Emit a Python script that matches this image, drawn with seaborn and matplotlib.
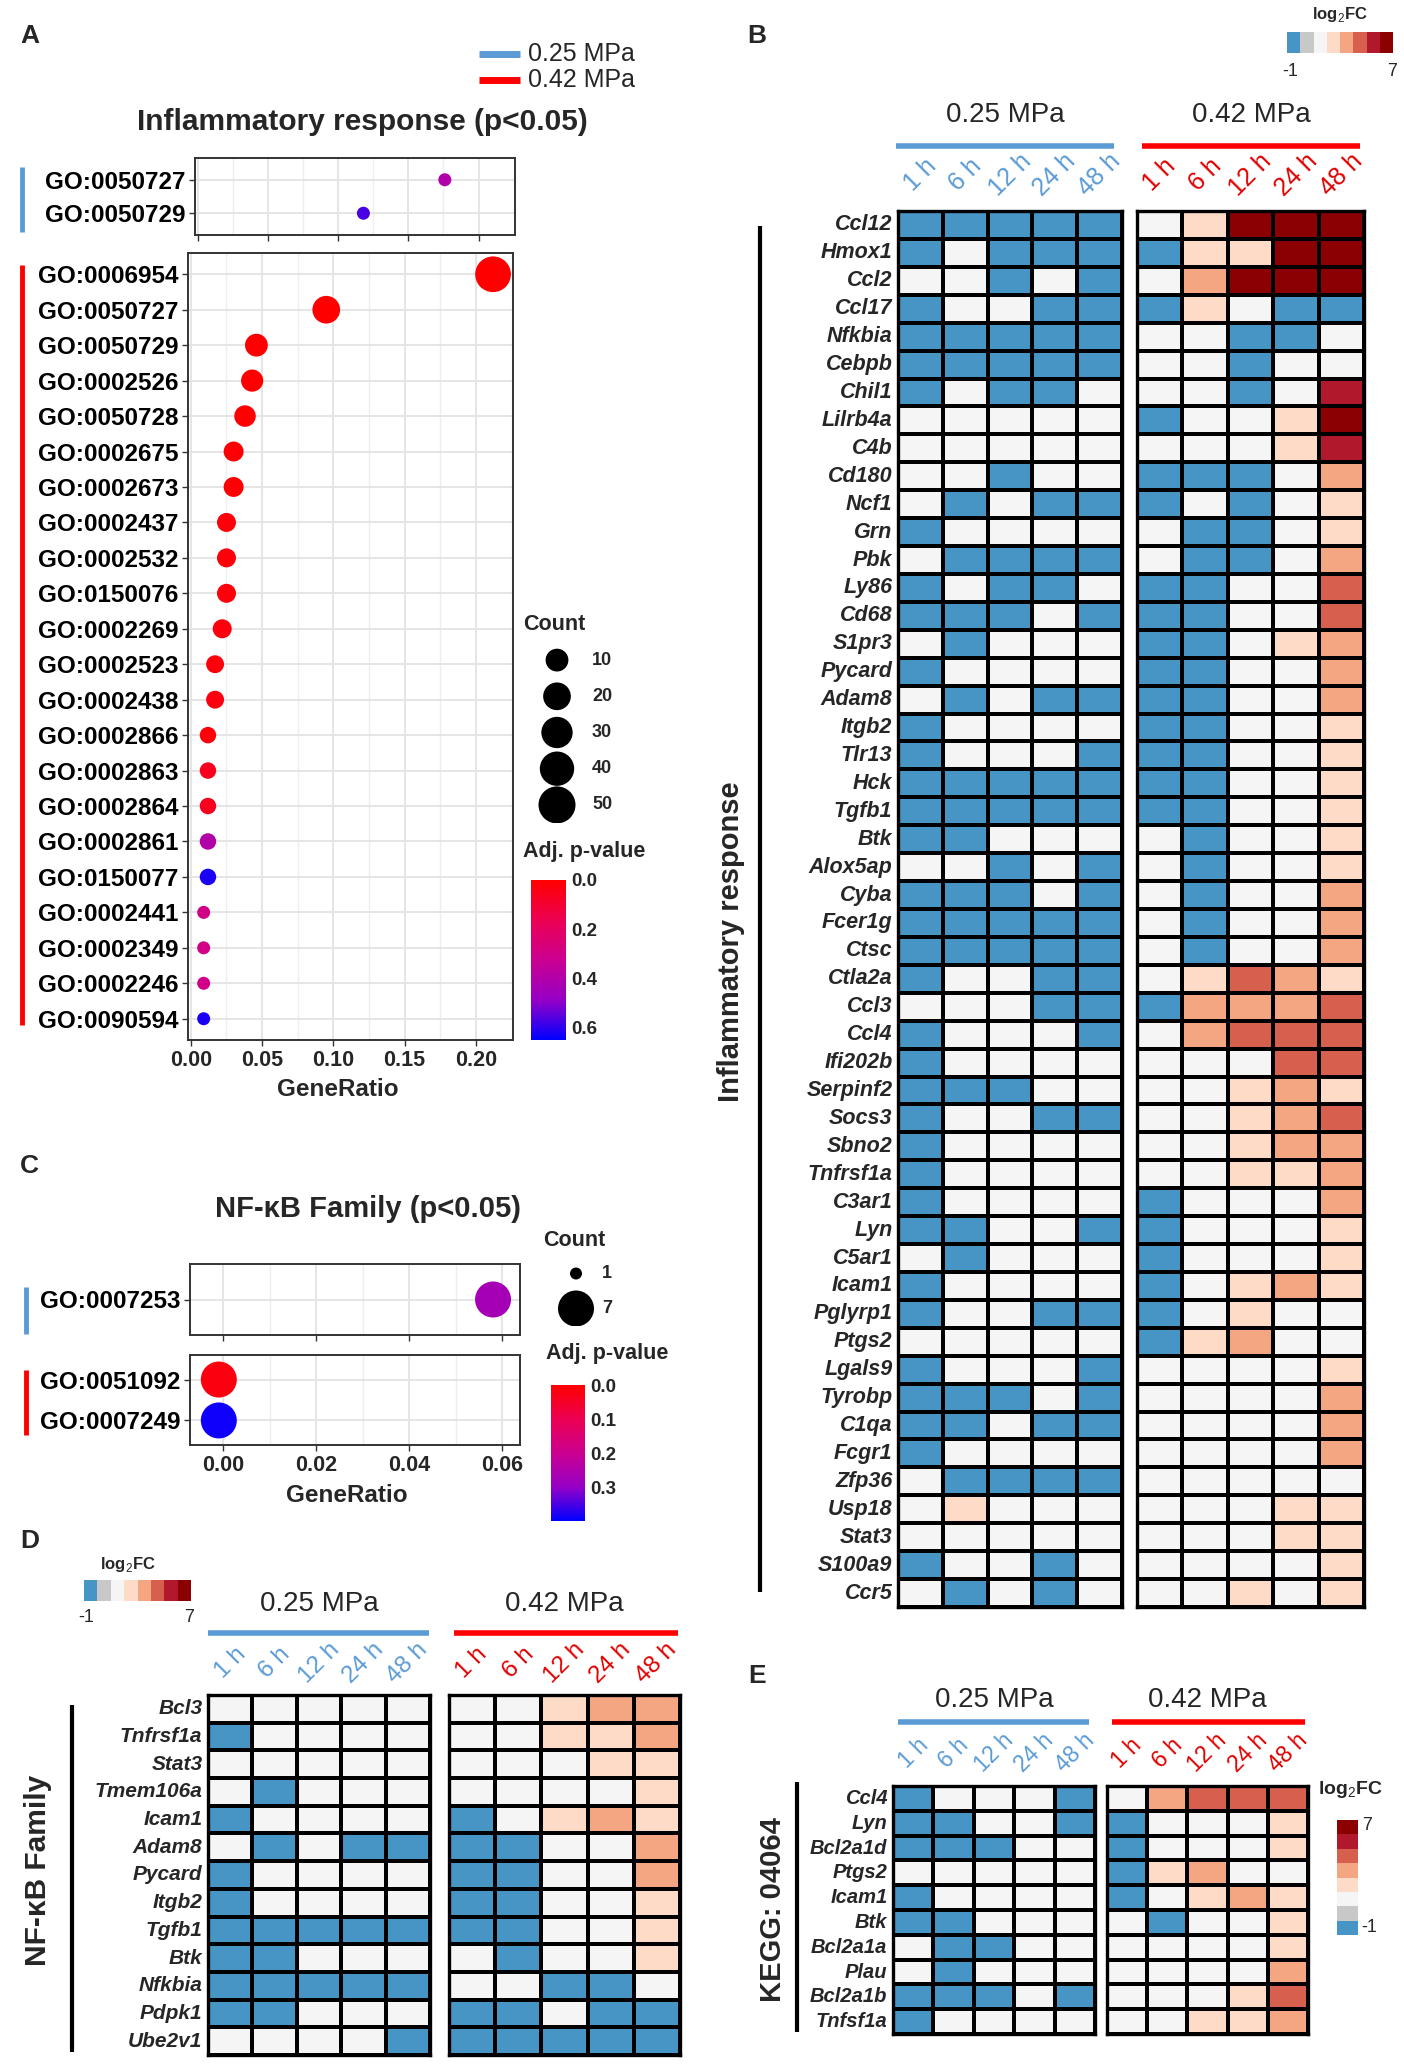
import numpy as np
import pandas as pd
import matplotlib
matplotlib.use("Agg")
import matplotlib.pyplot as plt
import seaborn as sns
from matplotlib.colors import LinearSegmentedColormap, ListedColormap, Normalize
from matplotlib.lines import Line2D
from matplotlib.ticker import MultipleLocator
import matplotlib.cm as cm

# ---------------- DATA ----------------
# Panel A: GO enrichment, inflammatory response
a_top_terms = ["GO:0050727", "GO:0050729"]
a_top_ratio = [0.176, 0.118]
a_top_count = [2, 2]
a_top_padj = [0.40, 0.57]

a_bot_terms = ["GO:0006954", "GO:0050727", "GO:0050729", "GO:0002526", "GO:0050728",
               "GO:0002675", "GO:0002673", "GO:0002437", "GO:0002532", "GO:0150076",
               "GO:0002269", "GO:0002523", "GO:0002438", "GO:0002866", "GO:0002863",
               "GO:0002864", "GO:0002861", "GO:0150077", "GO:0002441", "GO:0002349",
               "GO:0002246", "GO:0090594"]
a_bot_ratio = [0.212, 0.095, 0.046, 0.043, 0.038, 0.030, 0.030, 0.025, 0.025, 0.025,
               0.022, 0.017, 0.017, 0.012, 0.012, 0.012, 0.012, 0.012, 0.009, 0.009,
               0.009, 0.009]
a_bot_count = [45, 20, 10, 9, 8, 6, 6, 5, 5, 5, 5, 4, 4, 3, 3, 3, 3, 3, 2, 2, 2, 2]
a_bot_padj = [0.0, 0.0, 0.0, 0.0, 0.0, 0.01, 0.01, 0.02, 0.02, 0.02, 0.03, 0.02, 0.03,
              0.02, 0.06, 0.06, 0.40, 0.62, 0.30, 0.30, 0.30, 0.62]
a_count_legend = [10, 20, 30, 40, 50]

# Panel C: GO enrichment, NF-kB family
c_top_terms = ["GO:0007253"]
c_top_ratio = [0.058]
c_top_count = [7]
c_top_padj = [0.27]
c_bot_terms = ["GO:0051092", "GO:0007249"]
c_bot_ratio = [-0.001, -0.001]
c_bot_count = [7, 7]
c_bot_padj = [0.02, 0.39]
c_count_legend = [1, 7]

# Heatmaps (log2FC)
times = ["1 h", "6 h", "12 h", "24 h", "48 h"]

b_genes = ["Ccl12", "Hmox1", "Ccl2", "Ccl17", "Nfkbia", "Cebpb", "Chil1", "Lilrb4a", "C4b",
           "Cd180", "Ncf1", "Grn", "Pbk", "Ly86", "Cd68", "S1pr3", "Pycard", "Adam8", "Itgb2",
           "Tlr13", "Hck", "Tgfb1", "Btk", "Alox5ap", "Cyba", "Fcer1g", "Ctsc", "Ctla2a", "Ccl3",
           "Ccl4", "Ifi202b", "Serpinf2", "Socs3", "Sbno2", "Tnfrsf1a", "C3ar1", "Lyn", "C5ar1",
           "Icam1", "Pglyrp1", "Ptgs2", "Lgals9", "Tyrobp", "C1qa", "Fcgr1", "Zfp36", "Usp18",
           "Stat3", "S100a9", "Ccr5"]
b_025 = [
    [-0.5, -0.5, -0.5, -0.5, -0.5], [-0.5, 1.5, -0.5, -0.5, -0.5], [1.5, 1.5, -0.5, 1.5, -0.5],
    [-0.5, 1.5, 1.5, -0.5, -0.5], [-0.5, -0.5, -0.5, -0.5, -0.5], [-0.5, -0.5, -0.5, -0.5, -0.5],
    [-0.5, 1.5, -0.5, -0.5, 1.5], [1.5, 1.5, 1.5, 1.5, 1.5], [1.5, 1.5, 1.5, 1.5, 1.5],
    [1.5, 1.5, -0.5, 1.5, 1.5], [1.5, -0.5, 1.5, -0.5, -0.5], [-0.5, 1.5, 1.5, 1.5, 1.5],
    [1.5, -0.5, -0.5, -0.5, -0.5], [-0.5, 1.5, -0.5, -0.5, 1.5], [-0.5, -0.5, -0.5, 1.5, -0.5],
    [1.5, -0.5, 1.5, 1.5, 1.5], [-0.5, 1.5, 1.5, 1.5, 1.5], [1.5, -0.5, 1.5, -0.5, -0.5],
    [-0.5, 1.5, 1.5, 1.5, 1.5], [-0.5, 1.5, 1.5, 1.5, -0.5], [-0.5, -0.5, -0.5, -0.5, -0.5],
    [-0.5, -0.5, -0.5, -0.5, -0.5], [-0.5, -0.5, 1.5, 1.5, 1.5], [1.5, 1.5, -0.5, 1.5, -0.5],
    [-0.5, -0.5, -0.5, 1.5, -0.5], [-0.5, -0.5, -0.5, -0.5, -0.5], [-0.5, -0.5, -0.5, -0.5, -0.5],
    [-0.5, 1.5, 1.5, -0.5, -0.5], [1.5, 1.5, 1.5, -0.5, -0.5], [-0.5, 1.5, 1.5, 1.5, -0.5],
    [-0.5, 1.5, 1.5, 1.5, 1.5], [-0.5, -0.5, -0.5, 1.5, 1.5], [-0.5, 1.5, 1.5, -0.5, -0.5],
    [-0.5, 1.5, 1.5, 1.5, 1.5], [-0.5, 1.5, 1.5, 1.5, 1.5], [-0.5, 1.5, 1.5, 1.5, 1.5],
    [-0.5, -0.5, 1.5, 1.5, -0.5], [1.5, -0.5, 1.5, 1.5, 1.5], [-0.5, 1.5, 1.5, 1.5, 1.5],
    [-0.5, 1.5, 1.5, -0.5, -0.5], [1.5, 1.5, 1.5, 1.5, 1.5], [-0.5, 1.5, 1.5, 1.5, -0.5],
    [-0.5, -0.5, -0.5, 1.5, -0.5], [-0.5, -0.5, 1.5, -0.5, -0.5], [-0.5, 1.5, 1.5, 1.5, 1.5],
    [1.5, -0.5, -0.5, -0.5, -0.5], [1.5, 2.5, 1.5, 1.5, 1.5], [1.5, 1.5, 1.5, 1.5, 1.5],
    [-0.5, 1.5, 1.5, -0.5, 1.5], [1.5, -0.5, 1.5, -0.5, 1.5]]
b_042 = [
    [1.5, 2.5, 6.5, 6.5, 6.5], [-0.5, 2.5, 2.5, 6.5, 6.5], [1.5, 3.5, 6.5, 6.5, 6.5],
    [-0.5, 2.5, 1.5, -0.5, -0.5], [1.5, 1.5, -0.5, -0.5, 1.5], [1.5, 1.5, -0.5, 1.5, 1.5],
    [1.5, 1.5, -0.5, 1.5, 5.5], [-0.5, 1.5, 1.5, 2.5, 6.5], [1.5, 1.5, 1.5, 2.5, 5.5],
    [-0.5, -0.5, -0.5, 1.5, 3.5], [-0.5, 1.5, -0.5, 1.5, 2.5], [1.5, -0.5, -0.5, 1.5, 2.5],
    [1.5, -0.5, -0.5, 1.5, 3.5], [-0.5, -0.5, 1.5, 1.5, 4.5], [-0.5, -0.5, 1.5, 1.5, 4.5],
    [-0.5, -0.5, 1.5, 2.5, 3.5], [-0.5, -0.5, 1.5, 1.5, 3.5], [-0.5, -0.5, 1.5, 1.5, 3.5],
    [-0.5, -0.5, 1.5, 1.5, 2.5], [-0.5, -0.5, 1.5, 1.5, 2.5], [-0.5, -0.5, 1.5, 1.5, 2.5],
    [-0.5, -0.5, 1.5, 1.5, 2.5], [1.5, -0.5, 1.5, 1.5, 2.5], [1.5, -0.5, 1.5, 1.5, 2.5],
    [1.5, -0.5, 1.5, 1.5, 3.5], [1.5, -0.5, 1.5, 1.5, 3.5], [1.5, -0.5, 1.5, 1.5, 3.5],
    [1.5, 2.5, 4.5, 3.5, 2.5], [-0.5, 3.5, 3.5, 3.5, 4.5], [1.5, 3.5, 4.5, 4.5, 4.5],
    [1.5, 1.5, 1.5, 4.5, 4.5], [1.5, 1.5, 2.5, 3.5, 2.5], [1.5, 1.5, 2.5, 3.5, 4.5],
    [1.5, 1.5, 2.5, 3.5, 3.5], [1.5, 1.5, 2.5, 2.5, 3.5], [-0.5, 1.5, 1.5, 1.5, 3.5],
    [-0.5, 1.5, 1.5, 1.5, 2.5], [-0.5, 1.5, 1.5, 1.5, 2.5], [-0.5, 1.5, 2.5, 3.5, 2.5],
    [-0.5, 1.5, 2.5, 1.5, 1.5], [-0.5, 2.5, 3.5, 1.5, 1.5], [1.5, 1.5, 1.5, 1.5, 2.5],
    [1.5, 1.5, 1.5, 1.5, 3.5], [1.5, 1.5, 1.5, 1.5, 3.5], [1.5, 1.5, 1.5, 1.5, 3.5],
    [1.5, 1.5, 1.5, 1.5, 1.5], [1.5, 1.5, 1.5, 2.5, 2.5], [1.5, 1.5, 1.5, 2.5, 2.5],
    [1.5, 1.5, 1.5, 1.5, 2.5], [1.5, 1.5, 2.5, 1.5, 2.5]]

d_genes = ["Bcl3", "Tnfrsf1a", "Stat3", "Tmem106a", "Icam1", "Adam8", "Pycard", "Itgb2",
           "Tgfb1", "Btk", "Nfkbia", "Pdpk1", "Ube2v1"]
d_025 = [
    [1.5, 1.5, 1.5, 1.5, 1.5], [-0.5, 1.5, 1.5, 1.5, 1.5], [1.5, 1.5, 1.5, 1.5, 1.5],
    [1.5, -0.5, 1.5, 1.5, 1.5], [-0.5, 1.5, 1.5, 1.5, 1.5], [1.5, -0.5, 1.5, -0.5, -0.5],
    [-0.5, 1.5, 1.5, 1.5, 1.5], [-0.5, 1.5, 1.5, 1.5, 1.5], [-0.5, -0.5, -0.5, -0.5, -0.5],
    [-0.5, -0.5, 1.5, 1.5, 1.5], [-0.5, -0.5, -0.5, -0.5, -0.5], [-0.5, -0.5, 1.5, 1.5, 1.5],
    [1.5, 1.5, 1.5, 1.5, -0.5]]
d_042 = [
    [1.5, 1.5, 2.5, 3.5, 3.5], [1.5, 1.5, 2.5, 2.5, 3.5], [1.5, 1.5, 1.5, 2.5, 2.5],
    [1.5, 1.5, 1.5, 1.5, 2.5], [-0.5, 1.5, 2.5, 3.5, 2.5], [-0.5, -0.5, 1.5, 1.5, 3.5],
    [-0.5, -0.5, 1.5, 1.5, 3.5], [-0.5, -0.5, 1.5, 1.5, 2.5], [-0.5, -0.5, 1.5, 1.5, 2.5],
    [1.5, -0.5, 1.5, 1.5, 2.5], [1.5, 1.5, -0.5, -0.5, 1.5], [-0.5, -0.5, 1.5, -0.5, -0.5],
    [-0.5, -0.5, -0.5, -0.5, -0.5]]

e_genes = ["Ccl4", "Lyn", "Bcl2a1d", "Ptgs2", "Icam1", "Btk", "Bcl2a1a", "Plau",
           "Bcl2a1b", "Tnfsf1a"]
e_025 = [
    [-0.5, 1.5, 1.5, 1.5, -0.5], [-0.5, -0.5, 1.5, 1.5, -0.5], [-0.5, -0.5, -0.5, 1.5, 1.5],
    [1.5, 1.5, 1.5, 1.5, 1.5], [-0.5, 1.5, 1.5, 1.5, 1.5], [-0.5, -0.5, 1.5, 1.5, 1.5],
    [1.5, -0.5, -0.5, 1.5, 1.5], [1.5, -0.5, 1.5, 1.5, 1.5], [-0.5, -0.5, -0.5, 1.5, -0.5],
    [-0.5, 1.5, 1.5, 1.5, 1.5]]
e_042 = [
    [1.5, 3.5, 4.5, 4.5, 4.5], [-0.5, 1.5, 1.5, 1.5, 2.5], [-0.5, 1.5, 1.5, 1.5, 2.5],
    [-0.5, 2.5, 3.5, 1.5, 1.5], [-0.5, 1.5, 2.5, 3.5, 2.5], [1.5, -0.5, 1.5, 1.5, 2.5],
    [1.5, 1.5, 1.5, 1.5, 2.5], [1.5, 1.5, 1.5, 1.5, 3.5], [1.5, 1.5, 1.5, 2.5, 4.5],
    [1.5, 1.5, 2.5, 2.5, 3.5]]

fc_legend_levels = [-0.5, 0.5, 1.5, 2.5, 3.5, 4.5, 5.5, 6.5]

# ---------------- STYLE ----------------
sns.set_theme(style="white")
plt.rcParams['font.family'] = ['Liberation Sans', 'DejaVu Sans']
plt.rcParams['mathtext.fontset'] = 'custom'
plt.rcParams['mathtext.rm'] = 'Liberation Sans'
plt.rcParams['mathtext.bf'] = 'Liberation Sans:bold'

BLUE = "#5B9BD5"
RED = "#FF0000"
RED_TXT = "#E00000"
fc_cmap = ListedColormap(["#4795C5", "#C8C8C8", "#F5F5F5", "#FDDBC7", "#F4A582",
                          "#D6604D", "#B2182B", "#8B0000"])
# red -> blue through magenta (perceptual-style interpolation as in ggplot)
p_cmap = LinearSegmentedColormap.from_list(
    "rb", [(0.0, "#FF0000"), (0.25, "#EC0052"), (0.5, "#CB0090"),
           (0.75, "#9600C6"), (1.0, "#0000FF")])

W, H = 1404, 2066
fig = plt.figure(figsize=(W / 100, H / 100), dpi=100)


def R(x0, y0, x1, y1):
    return [x0 / W, 1 - y1 / H, (x1 - x0) / W, (y1 - y0) / H]


def T(x, y, s, **kw):
    return fig.text(x / W, 1 - y / H, s, **kw)


def L(x0, y0, x1, y1, **kw):
    fig.add_artist(Line2D([x0 / W, x1 / W], [1 - y0 / H, 1 - y1 / H], **kw))


def size_map(counts, cmin, cmax, dmin, dmax):
    out = {}
    for c in counts:
        f = np.sqrt(max(c - cmin, 0) / (cmax - cmin))
        d_px = dmin + (dmax - dmin) * f
        out[c] = (d_px * 0.72) ** 2
    return out


def dot_panel(rect, terms, ratio, count, padj, xlim, xticks, minor, pmax, sizes,
              show_xlabels, ylim_pad=0.6):
    ax = fig.add_axes(R(*rect))
    df = pd.DataFrame(dict(term=terms, ratio=ratio, count=count, padj=padj))
    sns.scatterplot(data=df, x="ratio", y="term", hue="padj", palette=p_cmap,
                    hue_norm=(0, pmax), size="count", sizes=sizes, legend=False,
                    edgecolor="none", linewidth=0, ax=ax, zorder=3)
    n = len(terms)
    ax.set_ylim(n - 1 + ylim_pad, -ylim_pad)
    ax.set_xlim(*xlim)
    ax.set_xticks(xticks)
    ax.xaxis.set_minor_locator(MultipleLocator(minor))
    ax.grid(True, which="major", color="#E3E3E3", linewidth=1.3)
    ax.grid(True, which="minor", axis="x", color="#EEEEEE", linewidth=1.0)
    ax.set_axisbelow(True)
    for sp in ax.spines.values():
        sp.set_visible(True)
        sp.set_color("#333333")
        sp.set_linewidth(1.4)
    ax.tick_params(axis="both", which="major", length=4, width=1, color="#333333",
                   direction="out", left=True, bottom=True, labelsize=15.5, pad=3)
    ax.tick_params(which="minor", length=0)
    ax.set_xlabel("")
    ax.set_ylabel("")
    if show_xlabels:
        ax.set_xticklabels([f"{t:.2f}" for t in xticks], fontweight="bold", fontsize=15.5)
    else:
        ax.set_xticklabels([])
    for lab in ax.get_yticklabels():
        lab.set_fontweight("bold")
        lab.set_fontsize(17.5)
        lab.set_color("black")
    return ax


def p_colorbar(rect, pmax, ticks, fmt):
    cax = fig.add_axes(R(*rect))
    sm = cm.ScalarMappable(norm=Normalize(0, pmax), cmap=p_cmap)
    cb = fig.colorbar(sm, cax=cax, ticks=ticks)
    cax.invert_yaxis()
    cb.outline.set_visible(False)
    cax.tick_params(length=5, width=1, color="white", direction="in", labelsize=13.5, pad=4)
    cax.set_yticklabels([fmt.format(t) for t in ticks], fontweight="bold")


def size_legend(rect, values, sizes, label_x_off):
    ax = fig.add_axes(R(*rect))
    df = pd.DataFrame(dict(x=[0] * len(values), y=list(range(len(values))), count=values))
    sns.scatterplot(data=df, x="x", y="y", size="count", sizes=sizes, color="black",
                    edgecolor="none", legend=False, ax=ax)
    ax.set_xlim(-1, 3)
    ax.set_ylim(len(values) - 0.5, -0.5)
    for i, v in enumerate(values):
        ax.text(label_x_off, i, str(v), ha="left", va="center", fontsize=13,
                fontweight="bold")
    ax.axis("off")


# ---------------- PANEL A ----------------
T(20, 36, "A", fontsize=19, fontweight="bold", ha="left", va="center")
L(479, 54, 520, 54, color=BLUE, linewidth=5, solid_capstyle="butt")
L(479, 80, 520, 80, color=RED, linewidth=5, solid_capstyle="butt")
T(528, 54, "0.25 MPa", fontsize=18, ha="left", va="center")
T(528, 80, "0.42 MPa", fontsize=18, ha="left", va="center")
T(362, 122, "Inflammatory response (p<0.05)", fontsize=21.5, fontweight="bold",
  ha="center", va="center")

a_sizes = size_map(sorted(set(a_top_count + a_bot_count + a_count_legend)), 2, 50, 13, 37)
dot_panel((195, 158, 515, 235), a_top_terms, a_top_ratio, a_top_count, a_top_padj,
          (-0.002, 0.226), [0, 0.05, 0.10, 0.15, 0.20], 0.025, 0.65, a_sizes, False,
          ylim_pad=0.65)
dot_panel((188, 253, 513, 1040), a_bot_terms, a_bot_ratio, a_bot_count, a_bot_padj,
          (-0.002, 0.226), [0, 0.05, 0.10, 0.15, 0.20], 0.025, 0.65, a_sizes, True)
T(338, 1090, "GeneRatio", fontsize=17.5, fontweight="bold", ha="center", va="center")
L(22, 167, 22, 232, color=BLUE, linewidth=3.5, solid_capstyle="butt")
L(22, 265, 22, 1025, color=RED, linewidth=3.5, solid_capstyle="butt")

T(523, 624, "Count", fontsize=15.5, fontweight="bold", ha="left", va="center")
size_legend((532, 642, 632, 823), a_count_legend, a_sizes, 1.4)
T(523, 852, "Adj. p-value", fontsize=15.5, fontweight="bold", ha="left", va="center")
p_colorbar((531, 880, 566, 1040), 0.65, [0, 0.2, 0.4, 0.6], "{:.1f}")

# ---------------- PANEL C ----------------
T(20, 1166, "C", fontsize=19, fontweight="bold", ha="left", va="center")
T(368, 1209, "NF-κB Family (p<0.05)", fontsize=21, fontweight="bold",
  ha="center", va="center")
c_sizes = size_map(sorted(set(c_top_count + c_bot_count + c_count_legend)), 1, 7, 12, 36)
dot_panel((190, 1264, 520, 1335), c_top_terms, c_top_ratio, c_top_count, c_top_padj,
          (-0.0072, 0.0638), [0, 0.02, 0.04, 0.06], 0.01, 0.40, c_sizes, False)
dot_panel((190, 1355, 520, 1445), c_bot_terms, c_bot_ratio, c_bot_count, c_bot_padj,
          (-0.0072, 0.0638), [0, 0.02, 0.04, 0.06], 0.01, 0.40, c_sizes, True)
T(347, 1495, "GeneRatio", fontsize=17.5, fontweight="bold", ha="center", va="center")
L(26, 1287, 26, 1334, color=BLUE, linewidth=3.5, solid_capstyle="butt")
L(26, 1370, 26, 1435, color=RED, linewidth=3.5, solid_capstyle="butt")

T(543, 1241, "Count", fontsize=15.5, fontweight="bold", ha="left", va="center")
size_legend((556, 1256, 636, 1326), c_count_legend, c_sizes, 1.3)
T(546, 1354, "Adj. p-value", fontsize=15.5, fontweight="bold", ha="left", va="center")
p_colorbar((551, 1385, 585, 1521), 0.40, [0, 0.1, 0.2, 0.3], "{:.1f}")


# ---------------- HEATMAP HELPERS ----------------
def heat_block(rect, data, genes, lab_color, gene_fs, lab_off, lab_fs):
    ax = fig.add_axes(R(*rect))
    sns.heatmap(np.array(data), ax=ax, cmap=fc_cmap, vmin=-1, vmax=7, cbar=False,
                linewidths=1.6, linecolor="black", xticklabels=False,
                yticklabels=genes if genes is not None else False)
    for sp in ax.spines.values():
        sp.set_visible(True)
        sp.set_linewidth(2.4)
        sp.set_color("black")
    if genes is not None:
        ax.set_yticklabels(genes, rotation=0, fontstyle="italic", fontweight="bold",
                           fontsize=gene_fs)
        ax.tick_params(axis="y", length=0, pad=4)
    for i, t in enumerate(times):
        ax.annotate(t, xy=(i + 0.5, 0), xycoords="data", xytext=(0, lab_off),
                    textcoords="offset points", rotation=45, ha="center", va="center",
                    color=lab_color, fontsize=lab_fs, annotation_clip=False)
    return ax


def fc_legend(rect, vertical, title_xy, lab1, lab2, title_fs=12):
    ax = fig.add_axes(R(*rect))
    if vertical:
        arr = np.array(fc_legend_levels[::-1]).reshape(-1, 1)
    else:
        arr = np.array(fc_legend_levels).reshape(1, -1)
    sns.heatmap(arr, ax=ax, cmap=fc_cmap, vmin=-1, vmax=7, cbar=False,
                xticklabels=False, yticklabels=False, linewidths=0)
    T(title_xy[0], title_xy[1], r"log$_2$FC", fontsize=title_fs, fontweight="bold",
      ha="center", va="center")
    T(lab1[0], lab1[1], lab1[2], **lab1[3])
    T(lab2[0], lab2[1], lab2[2], **lab2[3])


def group_headers(x025, x042, y_text, y_line, l025, l042, fs=20):
    T((x025[0] + x025[1]) / 2, y_text, "0.25 MPa", fontsize=fs, ha="center", va="center")
    T((x042[0] + x042[1]) / 2, y_text, "0.42 MPa", fontsize=fs, ha="center", va="center")
    L(l025[0], y_line, l025[1], y_line, color=BLUE, linewidth=4, solid_capstyle="butt")
    L(l042[0], y_line, l042[1], y_line, color=RED, linewidth=4, solid_capstyle="butt")


# ---------------- PANEL B ----------------
T(747, 36, "B", fontsize=19, fontweight="bold", ha="left", va="center")
fc_legend((1287, 32, 1393, 53), False, (1340, 15),
          (1290, 71, "-1", dict(fontsize=13, ha="center", va="center")),
          (1392, 71, "7", dict(fontsize=13, ha="center", va="center")))
group_headers((896, 1114), (1142, 1360), 115, 146, (896, 1114), (1142, 1360))
heat_block((898, 211, 1122, 1607), b_025, b_genes, BLUE, 15.5, 26, 18)
heat_block((1137, 211, 1364, 1607), b_042, None, RED_TXT, 15.5, 26, 18)
L(760, 226, 760, 1592, color="black", linewidth=3, solid_capstyle="butt")
T(731, 942, "Inflammatory response", fontsize=21, fontweight="bold", rotation=90,
  ha="center", va="center")

# ---------------- PANEL D ----------------
T(20, 1541, "D", fontsize=19, fontweight="bold", ha="left", va="center")
fc_legend((84, 1580, 191, 1601), False, (128, 1564),
          (86, 1618, "-1", dict(fontsize=13, ha="center", va="center")),
          (189, 1618, "7", dict(fontsize=13, ha="center", va="center")))
group_headers((208, 430), (449, 680), 1604, 1633, (208, 429), (454, 678))
heat_block((208, 1695, 430, 2055), d_025, d_genes, BLUE, 15, 23, 17.5)
heat_block((449, 1695, 680, 2055), d_042, None, RED_TXT, 15, 23, 17.5)
L(72, 1705, 72, 2052, color="black", linewidth=3, solid_capstyle="butt")
T(38, 1870, "NF-κB Family", fontsize=21.5, fontweight="bold", rotation=90,
  ha="center", va="center")

# ---------------- PANEL E ----------------
T(748, 1676, "E", fontsize=19, fontweight="bold", ha="left", va="center")
group_headers((893, 1095), (1107, 1308), 1700, 1722, (898, 1089), (1112, 1305))
heat_block((893, 1786, 1095, 2034), e_025, e_genes, BLUE, 14.5, 24, 16.5)
heat_block((1107, 1786, 1308, 2034), e_042, None, RED_TXT, 14.5, 24, 16.5)
L(797, 1782, 797, 2032, color="black", linewidth=3, solid_capstyle="butt")
T(773, 1910, "KEGG: 04064", fontsize=21, fontweight="bold", rotation=90,
  ha="center", va="center")
fc_legend((1337, 1820, 1358, 1935), True, (1350, 1790),
          (1362, 1826, "7", dict(fontsize=13, ha="left", va="center")),
          (1361, 1928, "-1", dict(fontsize=13, ha="left", va="center")), title_fs=14)

fig.savefig("out.png", dpi=100)
